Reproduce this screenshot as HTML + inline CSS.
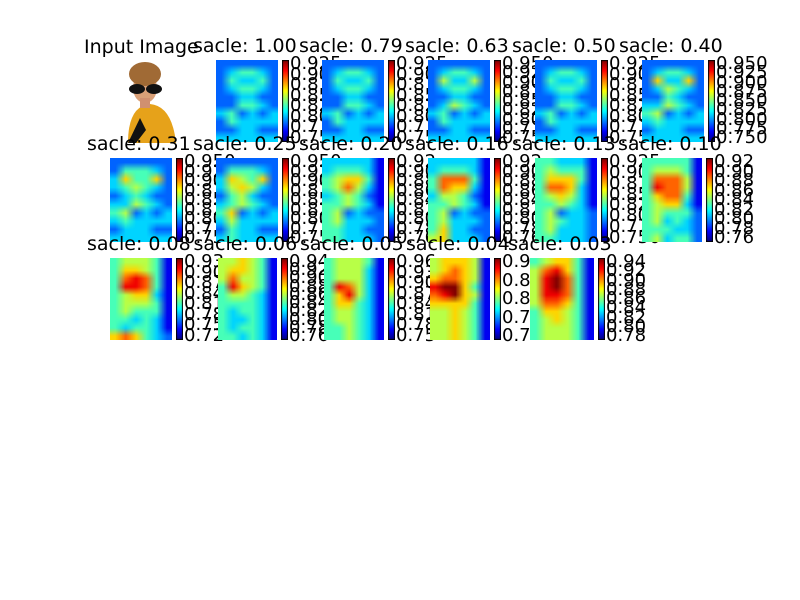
<!DOCTYPE html>
<html><head><meta charset="utf-8">
<style>
body{margin:0;background:#fff;}
#fig{position:relative;width:800px;height:600px;overflow:hidden;background:#fff;font-family:"DejaVu Sans","Liberation Sans",sans-serif;}
.t{position:absolute;font-size:19px;line-height:20px;color:#000;white-space:nowrap;}
.k{position:absolute;font-size:18px;color:#000;white-space:nowrap;line-height:18px;}
canvas{position:absolute;}
</style></head>
<body>
<div id="fig"></div>
<script>
// panel titles
const titles=["sacle: 1.00","sacle: 0.79","sacle: 0.63","sacle: 0.50","sacle: 0.40",
"sacle: 0.31","sacle: 0.25","sacle: 0.20","sacle: 0.16","sacle: 0.13","sacle: 0.10",
"sacle: 0.08","sacle: 0.06","sacle: 0.05","sacle: 0.04","sacle: 0.03"];
// colorbar tick labels per panel
const ticks=[
["0.925","0.900","0.875","0.850","0.825","0.800","0.775","0.750"],
["0.925","0.900","0.875","0.850","0.825","0.800","0.775","0.750"],
["0.950","0.925","0.900","0.875","0.850","0.825","0.800","0.775","0.750"],
["0.925","0.900","0.875","0.850","0.825","0.800","0.775","0.750"],
["0.950","0.925","0.900","0.875","0.850","0.825","0.800","0.775","0.750"],
["0.950","0.925","0.900","0.875","0.850","0.825","0.800","0.775","0.750"],
["0.950","0.925","0.900","0.875","0.850","0.825","0.800","0.775","0.750"],
["0.92","0.90","0.88","0.86","0.84","0.82","0.80","0.78","0.76"],
["0.92","0.90","0.88","0.86","0.84","0.82","0.80","0.78","0.76"],
["0.925","0.900","0.875","0.850","0.825","0.800","0.775","0.750"],
["0.92","0.90","0.88","0.86","0.84","0.82","0.80","0.78","0.76"],
["0.93","0.90","0.87","0.84","0.81","0.78","0.75","0.72"],
["0.94","0.92","0.90","0.88","0.86","0.84","0.82","0.80","0.78","0.76"],
["0.96","0.93","0.90","0.87","0.84","0.81","0.78","0.75"],
["0.9","0.85","0.8","0.75","0.7"],
["0.94","0.92","0.90","0.88","0.86","0.84","0.82","0.80","0.78"]];
// heatmap grids (rows of digits 0-9, normalized value = d/9)
const gFace=["222222","234432","243342","234432","223322","224432","342323","243333","223322","333333"];
const grids=[gFace,gFace,
["222222","234432","253352","234432","223322","235432","342323","243333","223322","333333"],
gFace,
["222222","234432","263362","235432","224322","335432","452323","343333","233322","333333"],
["222222","244432","364462","345432","234322","335432","452323","343333","233322","333333"],
["222222","244432","365462","356532","245322","345432","462323","353333","243322","343333"],
["333331","344431","456641","457531","345421","445431","452322","453332","443322","443332"],
["333331","344431","477741","476631","355421","445431","452322","453332","463322","563332"],
["443331","454441","466641","477631","456531","445431","452332","454332","453332","443332"],
["444441","455541","477751","487751","467741","456631","454442","453432","444332","453442"],
["455541","466541","478741","488741","456631","455541","454441","443431","434431","676432"],
["556541","566541","575541","486541","455431","444431","434431","433431","434431","443431"],
["455541","455531","455531","487531","468531","466431","455431","455431","445431","445431"],
["566651","567651","677651","899641","789651","666641","556541","556541","556541","556541"],
["456641","578641","589741","589741","588741","577641","466541","456541","455541","455541"]];
// panel layout: [x,y,w,h]
const pos=[[216,60,62,82],[322,60,62,82],[428,60,62,82],[535,60,62,82],[642,60,62,82],
[110,158,62,84],[216,158,62,84],[322,158,62,84],[428,158,62,84],[535,158,62,84],[642,158,60,84],
[110,258,62,82],[218,258,59,82],[324,258,60,82],[430,258,60,82],[530,258,64,82]];
const fig=document.getElementById('fig');
function jet(v){const c=x=>Math.round(255*Math.max(0,Math.min(1,x)));return [c(1.5-Math.abs(4*v-3)),c(1.5-Math.abs(4*v-2)),c(1.5-Math.abs(4*v-1))];}
// input image
const title0=document.createElement('div');title0.className='t';title0.textContent='Input Image';title0.style.left='84px';title0.style.top='37px';


fig.appendChild(title0);
const svgNS='http://www.w3.org/2000/svg';
const img=document.createElementNS(svgNS,'svg');img.setAttribute('width','70');img.setAttribute('height','85');
img.style.position='absolute';img.style.left='110px';img.style.top='58px';


img.innerHTML='<path d="M18 85 Q18 48 40 46 Q62 48 66 85Z" fill="#e6a21a"/><path d="M18 85 L30 60 L36 72 L26 85Z" fill="#111"/><ellipse cx="35" cy="30" rx="12" ry="15" fill="#d9a078"/><rect x="30" y="40" width="10" height="10" fill="#d09070"/><ellipse cx="35" cy="16" rx="16" ry="12" fill="#a06a35"/><ellipse cx="27" cy="31" rx="8" ry="5" fill="#111"/><ellipse cx="44" cy="31" rx="8" ry="5" fill="#111"/>';
fig.appendChild(img);
for(let i=0;i<titles.length;i++){
  const [x,y,w,h]=pos[i];
  const t=document.createElement('div');t.className='t';t.textContent=titles[i];
  t.style.left=(x+w/2-54)+'px';t.style.top=(y-24)+'px';
  
  
  fig.appendChild(t);
  const g=grids[i];const R=g.length,C=g[0].length;
  const small=document.createElement('canvas');small.width=C;small.height=R;
  const sc=small.getContext('2d');const id=sc.createImageData(C,R);
  for(let r=0;r<R;r++)for(let c=0;c<C;c++){const col=jet(+g[r][c]/9);const k=(r*C+c)*4;id.data[k]=col[0];id.data[k+1]=col[1];id.data[k+2]=col[2];id.data[k+3]=255;}
  sc.putImageData(id,0,0);
  const cv=document.createElement('canvas');cv.width=w;cv.height=h;cv.style.left=x+'px';cv.style.top=y+'px';
  
  
  const cx=cv.getContext('2d');cx.imageSmoothingEnabled=true;cx.drawImage(small,0,0,w,h);
  fig.appendChild(cv);
  // colorbar
  const cb=document.createElement('canvas');cb.width=7;cb.height=h;cb.style.left=(x+w+4)+'px';cb.style.top=y+'px';
  
  
  const bx=cb.getContext('2d');
  for(let yy=0;yy<h;yy++){const col=jet(1-yy/(h-1));bx.fillStyle=`rgb(${col})`;bx.fillRect(0,yy,7,1);}
  bx.strokeStyle='#000';bx.strokeRect(0.5,0.5,6,h-1);
  fig.appendChild(cb);
  const tk=ticks[i];const n=tk.length;
  for(let j=0;j<n;j++){
    const ty=y+4+(h-8)*j/(n-1);
    const l=document.createElement('div');l.className='k';l.textContent=tk[j];
    l.style.left=(x+w+12)+'px';l.style.top=(ty-9)+'px';
    
    
    fig.appendChild(l);
  }
}
</script>
</body></html>
